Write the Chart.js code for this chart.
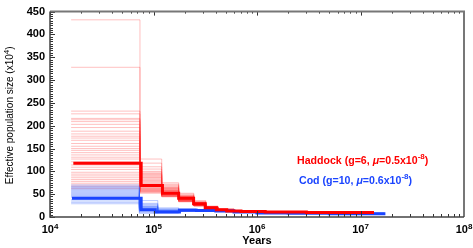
<!DOCTYPE html>
<html>
<head>
<meta charset="utf-8">
<script src="https://cdn.jsdelivr.net/npm/chart.js@4/dist/chart.umd.min.js"></script>
<style>
    body { margin: 0; background: #fff; }
    #wrap { position: relative; width: 473px; height: 248px; }
    .label {
        position: absolute;
        font: bold 10.6px "Liberation Sans", Arial, sans-serif;
        line-height: 13px;
        white-space: nowrap;
    }
    .label sup { font-size: 8px; position: relative; top: -1px; vertical-align: top; line-height: 8px; }
    #haddockLabel { left: 297px; top: 154px; color: #ff0000; }
    #codLabel { left: 299px; top: 174px; color: #1a44ff; }
</style>
</head>
<body>
<div id="wrap">
    <canvas id="psmcChart" width="473" height="248"></canvas>
    <div class="label" id="haddockLabel">Haddock (g=6, <i>μ</i>=0.5x10<sup>-8</sup>)</div>
    <div class="label" id="codLabel">Cod (g=10, <i>μ</i>=0.6x10<sup>-8</sup>)</div>
</div>
<script>
// Main estimates (years, Ne x10^4); each value holds until the next time
const haddockTimes = [1.68e4, 7.6e4, 1.22e5, 1.75e5, 2.44e5, 3.16e5, 4.05e5, 5.1e5, 7e5, 1.2e6, 3e6, 1.35e7];
const haddockNe = [118, 69, 52, 41, 29, 20, 16, 13, 12, 11, 10];

const codTimes = [1.63e4, 7.6e4, 1.04e5, 1.78e5, 2.6e5, 4e5, 6e5, 1e6, 2e6, 5e6, 1.74e7];
const codNe = [41, 16, 11, 15, 14, 13, 11, 9, 8, 7];

// Bootstrap replicates
const haddockBootTimes = [1.6e4, 7.4e4, 1.2e5, 1.75e5, 2.45e5, 3.2e5, 4.2e5, 6e5, 1.1e6, 3e6, 8e6, 1.35e7];
const haddockBoots = [
    [432, 95, 62, 44, 30, 21, 16, 13, 12, 11, 10],
    [328, 88, 58, 40, 28, 20, 15, 13, 11, 10, 10],
    [232, 127, 75, 52, 36, 24, 18, 14, 12, 11, 10],
    [226, 110, 70, 48, 33, 22, 17, 14, 12, 11, 10],
    [216, 118, 72, 50, 34, 23, 17, 13, 12, 11, 10],
    [213, 100, 66, 46, 31, 21, 16, 13, 12, 11, 10],
    [209, 92, 64, 45, 32, 22, 17, 14, 12, 11, 10],
    [203, 105, 68, 47, 30, 21, 16, 13, 11, 10, 9],
    [196, 85, 60, 43, 29, 20, 15, 13, 11, 10, 10],
    [188, 98, 63, 44, 31, 22, 16, 13, 12, 11, 10],
    [182, 90, 61, 42, 30, 21, 16, 14, 12, 11, 10],
    [177, 80, 57, 41, 29, 20, 15, 13, 11, 10, 9],
    [173, 94, 64, 45, 31, 21, 16, 13, 12, 11, 10],
    [168, 76, 55, 40, 28, 20, 15, 12, 11, 10, 10],
    [161, 86, 59, 43, 30, 21, 16, 13, 12, 11, 10],
    [155, 72, 54, 39, 28, 19, 15, 12, 11, 10, 9],
    [150, 82, 58, 42, 29, 20, 16, 13, 12, 11, 10],
    [146, 70, 53, 40, 27, 19, 15, 12, 11, 10, 10],
    [141, 78, 56, 41, 29, 20, 16, 13, 12, 11, 10],
    [136, 66, 51, 38, 27, 19, 15, 12, 11, 10, 9],
    [131, 74, 55, 40, 28, 20, 15, 13, 11, 10, 10],
    [127, 64, 50, 37, 26, 19, 14, 12, 11, 10, 9],
    [121, 71, 53, 39, 28, 20, 15, 12, 11, 10, 10],
    [114, 62, 49, 37, 26, 18, 14, 12, 11, 10, 9],
    [109, 68, 52, 39, 27, 19, 15, 13, 11, 10, 10],
    [104, 60, 48, 36, 26, 18, 14, 12, 11, 10, 9],
    [98, 66, 50, 38, 27, 19, 15, 12, 11, 10, 10],
    [94, 58, 47, 35, 25, 18, 14, 12, 11, 10, 9],
    [90, 63, 49, 37, 26, 19, 15, 12, 11, 10, 10],
    [86, 56, 46, 35, 25, 18, 14, 12, 10, 10, 9],
    [82, 61, 48, 36, 26, 18, 14, 12, 11, 10, 9],
    [78, 55, 45, 34, 25, 18, 14, 12, 11, 10, 10],
    [74, 59, 47, 36, 26, 19, 15, 12, 11, 10, 9],
    [70, 54, 45, 34, 24, 17, 14, 12, 10, 10, 9],
    [66, 57, 46, 35, 25, 18, 14, 12, 11, 10, 9],
    [62, 52, 44, 33, 24, 17, 13, 11, 10, 10, 9]
];

const codBootTimes = [1.6e4, 7.3e4, 1.1e5, 1.75e5, 2.6e5, 4e5, 6e5, 1e6, 2e6, 5e6, 1e7, 1.7e7];
const codBoots = [
    [70, 30, 18, 17, 16, 15, 13, 11, 9, 8, 8],
    [67, 26, 16, 16, 15, 14, 13, 11, 9, 8, 8],
    [65, 36, 20, 18, 16, 15, 13, 11, 9, 8, 8],
    [63, 22, 14, 16, 15, 14, 12, 10, 9, 8, 7],
    [61, 28, 17, 17, 16, 14, 13, 11, 9, 8, 8],
    [59, 20, 13, 15, 14, 13, 12, 10, 9, 8, 7],
    [57, 24, 15, 16, 15, 14, 12, 11, 9, 8, 8],
    [55, 18, 12, 15, 14, 13, 12, 10, 9, 8, 7],
    [53, 23, 14, 16, 15, 14, 13, 11, 9, 8, 8],
    [51, 16, 11, 14, 14, 13, 12, 10, 9, 8, 7],
    [49, 21, 13, 15, 15, 14, 12, 10, 9, 8, 8],
    [47, 14, 10, 14, 13, 13, 12, 10, 9, 8, 7],
    [45, 19, 12, 15, 14, 13, 12, 10, 9, 8, 8],
    [43, 12, 10, 13, 13, 12, 11, 10, 8, 8, 7],
    [38, 17, 11, 14, 14, 13, 12, 10, 9, 8, 7],
    [35, 10, 9, 13, 13, 12, 11, 10, 8, 8, 7],
    [32, 15, 11, 14, 13, 12, 11, 10, 9, 8, 7],
    [29, 8, 9, 12, 12, 12, 11, 9, 8, 7, 7]
];

// Axis ticks
const xTickPowers = [4, 5, 6, 7, 8];
const yTickValues = [0, 50, 100, 150, 200, 250, 300, 350, 400, 450];

const FONT = '"Liberation Sans", Arial, sans-serif';

// one point per time; the last value is carried to the end time
function toSteps(times, values) {
    return times.map((t, i) => ({ x: t, y: values[Math.min(i, values.length - 1)] }));
}

function stepLine(points, color, width) {
    return {
        data: points,
        borderColor: color,
        borderWidth: width,
        stepped: true,
        pointRadius: 0,
        fill: false,
        borderJoinStyle: 'miter',
        borderCapStyle: 'butt'
    };
}

// text with a raised exponent, e.g. 10^4
function drawPower(ctx, base, exp, x, y, align) {
    ctx.font = 'bold 11px ' + FONT;
    const wb = ctx.measureText(base).width;
    ctx.font = 'bold 8px ' + FONT;
    const we = ctx.measureText(exp).width;
    let left = x;
    if (align === 'center') left = x - (wb + we) / 2;
    ctx.font = 'bold 11px ' + FONT;
    ctx.fillText(base, left, y);
    ctx.font = 'bold 8px ' + FONT;
    ctx.fillText(exp, left + wb, y - 4);
}

// draws the frame, inward tick marks, x labels and the y title
const frameTicks = {
    id: 'frameTicks',
    afterDraw(chart) {
        const { ctx, chartArea: a, scales: { x, y } } = chart;
        ctx.save();

        ctx.strokeStyle = '#333';
        ctx.lineWidth = 1;
        ctx.beginPath();
        for (let v = 0; v <= 450; v += 5) {
            const py = Math.round(y.getPixelForValue(v)) + 0.5;
            const len = v % 50 === 0 ? 5 : 3;
            ctx.moveTo(a.left, py);
            ctx.lineTo(a.left + len, py);
        }
        xTickPowers.forEach(p => {
            for (let m = 1; m <= 9; m++) {
                const v = m * Math.pow(10, p);
                if (v > 1e8) break;
                const px = Math.round(x.getPixelForValue(v)) + 0.5;
                const len = m === 1 ? 6 : 3;
                ctx.moveTo(px, a.bottom);
                ctx.lineTo(px, a.bottom - len);
                ctx.moveTo(px, a.top);
                ctx.lineTo(px, a.top + (m === 1 ? 4 : 2));
            }
        });
        ctx.stroke();

        // top and right in grey, left and bottom darker
        ctx.lineWidth = 2;
        ctx.strokeStyle = '#777';
        ctx.beginPath();
        ctx.moveTo(a.left, a.top);
        ctx.lineTo(a.right, a.top);
        ctx.lineTo(a.right, a.bottom);
        ctx.stroke();
        ctx.strokeStyle = '#444';
        ctx.lineWidth = 1.5;
        ctx.beginPath();
        ctx.moveTo(a.left, a.top);
        ctx.lineTo(a.left, a.bottom);
        ctx.lineTo(a.right, a.bottom);
        ctx.stroke();

        // x tick labels
        ctx.fillStyle = '#000';
        ctx.textBaseline = 'alphabetic';
        ctx.textAlign = 'left';
        xTickPowers.forEach(p => {
            drawPower(ctx, '10', String(p), x.getPixelForValue(Math.pow(10, p)), 233, 'center');
        });

        // y title, rotated
        const title = 'Effective population size (x10';
        ctx.translate(13, (a.top + a.bottom) / 2 + 1);
        ctx.rotate(-Math.PI / 2);
        ctx.font = '10px ' + FONT;
        const w1 = ctx.measureText(title).width;
        const w2 = ctx.measureText('4').width * 0.8;
        const w3 = ctx.measureText(')').width;
        let left = -(w1 + w2 + w3) / 2;
        ctx.fillText(title, left, 0);
        ctx.font = '8px ' + FONT;
        ctx.fillText('4', left + w1, -4);
        ctx.font = '10px ' + FONT;
        ctx.fillText(')', left + w1 + w2, 0);

        ctx.restore();
    }
};

function buildDatasets() {
    // first dataset is drawn on top
    const sets = [
        stepLine(toSteps(haddockTimes, haddockNe), '#ff0000', 3),
        stepLine(toSteps(codTimes, codNe), '#1a44ff', 3)
    ];
    codBoots.forEach(row => sets.push(stepLine(toSteps(codBootTimes, row), 'rgba(40, 90, 255, 0.32)', 1)));
    haddockBoots.forEach(row => sets.push(stepLine(toSteps(haddockBootTimes, row), 'rgba(255, 50, 50, 0.3)', 1)));
    return sets;
}

document.addEventListener('DOMContentLoaded', () => {
    const ctx = document.getElementById('psmcChart');

    new Chart(ctx, {
        type: 'line',
        data: { datasets: buildDatasets() },
        options: {
            responsive: false,
            animation: false,
            devicePixelRatio: 1,
            layout: { padding: { left: 0, top: 4, right: 9, bottom: 0 } },
            plugins: {
                legend: { display: false },
                tooltip: { enabled: false }
            },
            scales: {
                x: {
                    type: 'logarithmic',
                    min: 1e4,
                    max: 1e8,
                    grid: { display: false, drawTicks: false },
                    border: { display: false },
                    afterBuildTicks: scale => {
                        scale.ticks = xTickPowers.map(p => ({ value: Math.pow(10, p) }));
                    },
                    afterFit: scale => { scale.height = 31; },
                    ticks: { display: false },
                    title: {
                        display: true,
                        text: 'Years',
                        color: '#000',
                        padding: { top: 0, bottom: 0 },
                        font: { family: FONT, size: 11, weight: 'bold' }
                    }
                },
                y: {
                    min: 0,
                    max: 450,
                    grid: { display: false, drawTicks: false },
                    border: { display: false },
                    afterBuildTicks: scale => {
                        scale.ticks = yTickValues.map(v => ({ value: v }));
                    },
                    afterFit: scale => { scale.width = 50; },
                    ticks: {
                        padding: 5,
                        color: '#000',
                        font: { family: FONT, size: 11, weight: 'bold' }
                    }
                }
            }
        },
        plugins: [frameTicks]
    });
});
</script>
</body>
</html>
